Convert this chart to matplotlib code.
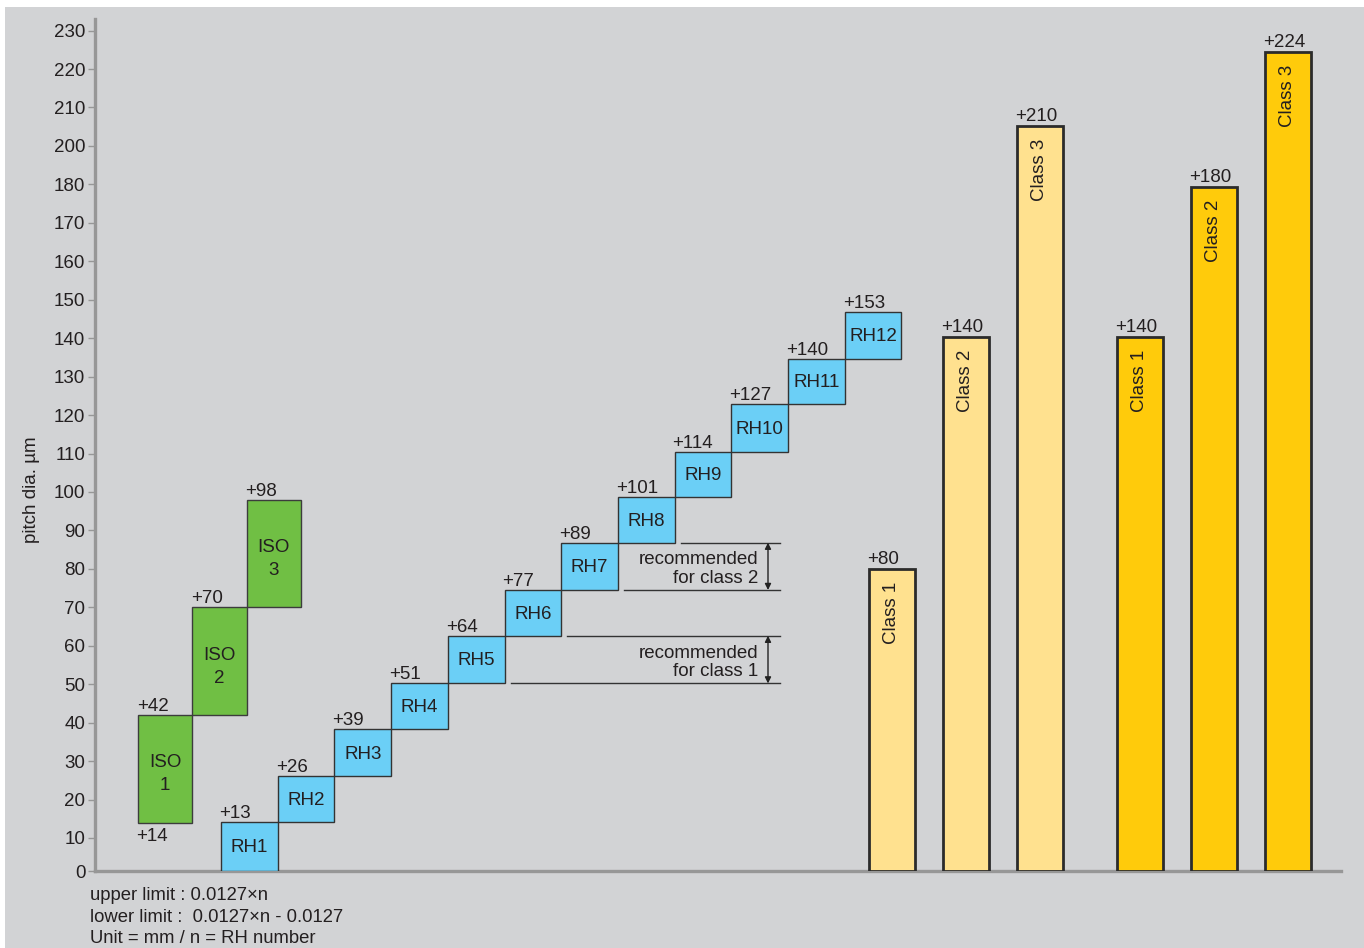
import numpy as np
import matplotlib
matplotlib.use("Agg")
import matplotlib.pyplot as plt
from matplotlib.patches import Rectangle

plt.rcParams['font.family'] = ['Liberation Sans', 'DejaVu Sans']

# ---------------- data ----------------
TICK_VALUES = [0, 10, 20, 30, 40, 50, 60, 70, 80, 90, 100, 110, 120, 130, 140,
               150, 160, 170, 180, 200, 210, 220, 230]

ISO_NAMES = ["ISO\n1", "ISO\n2", "ISO\n3"]
ISO_LOW = [14, 42, 70]
ISO_HIGH = [42, 70, 98]
ISO_TOP_LABELS = ["+42", "+70", "+98"]
ISO_BOTTOM_LABEL = "+14"

RH_NAMES = ["RH1", "RH2", "RH3", "RH4", "RH5", "RH6", "RH7", "RH8", "RH9",
            "RH10", "RH11", "RH12"]
RH_TOP = [14.2, 26.0, 38.3, 50.2, 62.6, 74.5, 86.8, 98.6, 110.5, 122.9, 134.7, 146.8]
RH_LABELS = ["+13", "+26", "+39", "+51", "+64", "+77", "+89", "+101", "+114",
             "+127", "+140", "+153"]

CLASS_NAMES = ["Class 1", "Class 2", "Class 3"]
CLASS_LIGHT = [80, 140.3, 205.2]
CLASS_LIGHT_LABELS = ["+80", "+140", "+210"]
CLASS_DARK = [140.3, 179.3, 224.4]
CLASS_DARK_LABELS = ["+140", "+180", "+224"]

REC_TEXT = ["recommended\nfor class 1", "recommended\nfor class 2"]
REC_RANGE = [(3, 4), (5, 6)]   # RH indices whose tops bound the range

FOOT = ["upper limit : 0.0127×n", "lower limit :  0.0127×n - 0.0127",
        "Unit = mm / n = RH number"]

# ---------------- style / layout ----------------
BG = "#d2d3d5"
GREEN = "#70bf44"
BLUE = "#6bcff6"
LIGHT_Y = "#ffe18f"
DARK_Y = "#ffcb0b"
EDGE = "#2b2b2b"
TXT = "#231f20"
SPINE = "#979797"

# y: piecewise scale (schematic axis as printed)
first_gap, step = 33.0, 38.45
POS = [0.0] + [first_gap + step * k for k in range(len(TICK_VALUES) - 1)]
VALS_EXT = TICK_VALUES + [240]
POS_EXT = POS + [POS[-1] + step]


def fwd(v):
    return np.interp(v, VALS_EXT, POS_EXT)


def inv(p):
    return np.interp(p, POS_EXT, VALS_EXT)


W, H = 1364, 948
fig = plt.figure(figsize=(W / 100, H / 100), dpi=100, facecolor="white")
fig.patches.append(Rectangle((5 / W, 0), 1 - 5 / W, 1 - 7 / H,
                             transform=fig.transFigure, facecolor=BG,
                             edgecolor="none", zorder=-10))

ax_l, ax_r, ax_t, ax_b = 95, 1341, 19, 871
ax = fig.add_axes([ax_l / W, (H - ax_b) / H, (ax_r - ax_l) / W, (ax_b - ax_t) / H])
ax.set_facecolor(BG)
ax.patch.set_alpha(0)
ax.set_yscale("function", functions=(fwd, inv))
ax.set_xlim(0, ax_r - ax_l)
ax.set_ylim(0, inv(ax_b - ax_t))
ax.set_yticks(TICK_VALUES)
ax.set_yticklabels([str(v) for v in TICK_VALUES])
ax.yaxis.set_minor_locator(matplotlib.ticker.NullLocator())
ax.set_xticks([])
for s in ["top", "right"]:
    ax.spines[s].set_visible(False)
for s in ["left", "bottom"]:
    ax.spines[s].set_color(SPINE)
    ax.spines[s].set_linewidth(2.4)
ax.tick_params(axis="y", colors=SPINE, labelcolor=TXT, labelsize=13.5,
               length=5, width=1, pad=2)
ax.set_ylabel("pitch dia. µm", fontsize=13.5, color=TXT)
ax.yaxis.set_label_coords(-(95 - 40) / (ax_r - ax_l), (ax_b - 490) / (ax_b - ax_t))

FS = 13.5

# ISO boxes
ISO_X0, ISO_W = 43, 54.3
for i, (name, lo, hi, lab) in enumerate(zip(ISO_NAMES, ISO_LOW, ISO_HIGH, ISO_TOP_LABELS)):
    x = ISO_X0 + i * ISO_W
    ax.add_patch(Rectangle((x, lo), ISO_W, hi - lo, facecolor=GREEN,
                           edgecolor="#3c3c3c", linewidth=1, zorder=3))
    ymid = inv((fwd(lo) + fwd(hi)) / 2)
    ax.annotate(name, (x + ISO_W / 2, ymid), xytext=(0, -4),
                textcoords="offset points", ha="center", va="center",
                fontsize=FS, color=TXT, linespacing=1.45, zorder=4)
    ax.annotate(lab, (x - 1, hi), xytext=(0, 0), textcoords="offset points",
                ha="left", va="bottom", fontsize=FS, color=TXT)
ax.annotate(ISO_BOTTOM_LABEL, (ISO_X0, ISO_LOW[0]), xytext=(-1, -4),
            textcoords="offset points", ha="left", va="top", fontsize=FS, color=TXT)

# RH boxes
RH_X0, RH_W = 126, 56.7
for i, (name, top, lab) in enumerate(zip(RH_NAMES, RH_TOP, RH_LABELS)):
    x = RH_X0 + i * RH_W
    lo = 0 if i == 0 else RH_TOP[i - 1]
    ax.add_patch(Rectangle((x, lo), RH_W, top - lo, facecolor=BLUE,
                           edgecolor="#333333", linewidth=1, zorder=3))
    ymid = inv((fwd(lo) + fwd(top)) / 2)
    ax.annotate(name, (x + RH_W / 2, ymid), xytext=(0, -1),
                textcoords="offset points", ha="center", va="center",
                fontsize=FS, color=TXT, zorder=4)
    ax.annotate(lab, (x - 2, top), xytext=(0, 0), textcoords="offset points",
                ha="left", va="bottom", fontsize=FS, color=TXT)

# recommended ranges
LINE_END, ARROW_X, TXT_X = 685, 673, 663
for text, (a, b) in zip(REC_TEXT, REC_RANGE):
    y_lo, y_hi = RH_TOP[a], RH_TOP[b]
    for k in (a, b):
        xs = RH_X0 + (k + 2) * RH_W + 6
        ax.plot([xs, LINE_END], [RH_TOP[k], RH_TOP[k]], color="#333333",
                linewidth=1, zorder=2)
    ax.annotate("", xy=(ARROW_X, y_hi), xytext=(ARROW_X, y_lo),
                arrowprops=dict(arrowstyle="<|-|>", color="#222222", lw=1,
                                mutation_scale=9, shrinkA=0, shrinkB=0))
    ymid = inv((fwd(y_lo) + fwd(y_hi)) / 2)
    ax.annotate(text, (TXT_X, ymid), xytext=(0, -2), textcoords="offset points",
                ha="right", va="center", fontsize=FS, color=TXT,
                linespacing=1.1)

# class bars
BAR_W, BAR_STEP = 46, 74
G_CENTERS = [797, 1045]
for g, (vals, labs, col) in enumerate([(CLASS_LIGHT, CLASS_LIGHT_LABELS, LIGHT_Y),
                                       (CLASS_DARK, CLASS_DARK_LABELS, DARK_Y)]):
    xs = [G_CENTERS[g] + i * BAR_STEP for i in range(len(vals))]
    ax.bar(xs, vals, width=BAR_W, color=col, edgecolor=EDGE, linewidth=2,
           zorder=3)
    for x, v, lab, name in zip(xs, vals, labs, CLASS_NAMES):
        ax.annotate(lab, (x - BAR_W / 2 - 2, v), xytext=(0, 0.5),
                    textcoords="offset points", ha="left", va="bottom",
                    fontsize=FS, color=TXT)
        ax.annotate(name, (x, v), xytext=(0, -9), textcoords="offset points",
                    ha="center", va="top", rotation=90, fontsize=FS, color=TXT,
                    zorder=4)

# footnote
for i, line in enumerate(FOOT):
    fig.text(90 / W, 1 - (895.5 + i * 21.5) / H, line, ha="left", va="center",
             fontsize=13.3, color=TXT)

fig.savefig("out.png", dpi=100, facecolor="white")
